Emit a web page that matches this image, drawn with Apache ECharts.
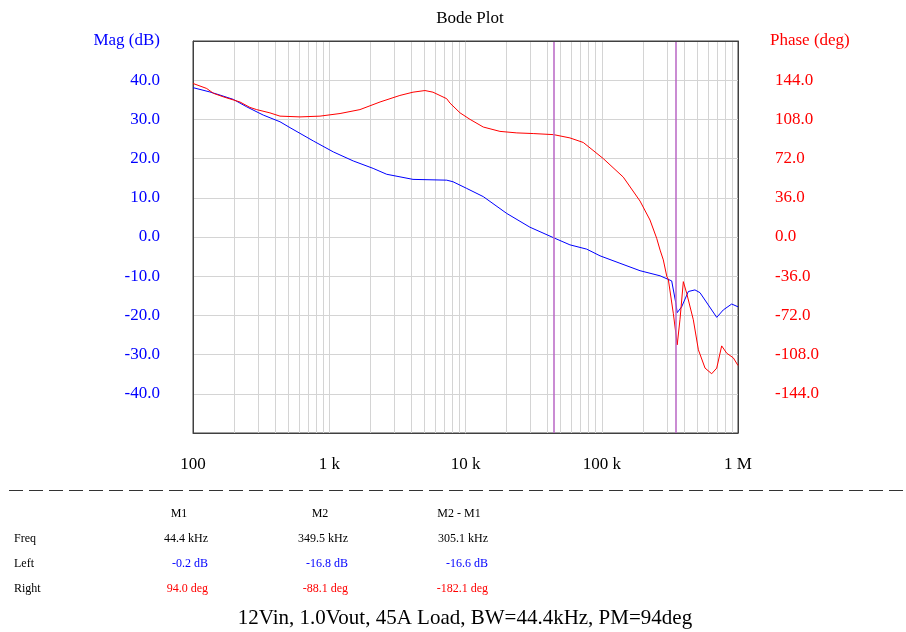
<!DOCTYPE html>
<html>
<head>
<meta charset="utf-8">
<script src="https://cdn.jsdelivr.net/npm/echarts@6/dist/echarts.min.js"></script>
<style>
html,body{margin:0;padding:0;background:#fff;}
#chart{width:906px;height:632px;}
</style>
</head>
<body>
<div id="chart"></div>
<script>
// ---- data ----
const magFreq = [100, 133, 158, 198, 248, 328, 435, 515, 764, 1072, 1500, 2100, 2640, 4120, 7280, 8090, 10200, 13500, 20100, 29700, 44400, 58400, 77600, 97100, 136000, 191000, 268000, 326000, 349500, 358000, 386000, 432000, 483000, 526000, 698000, 780000, 899000, 1000000];
const magDb   = [38.1, 37.0, 36.2, 35.1, 33.2, 31.1, 29.4, 27.9, 24.5, 21.7, 19.4, 17.5, 16.0, 14.7, 14.5, 14.1, 12.4, 10.3, 6.0, 2.5, -0.2, -2.0, -3.1, -4.8, -6.7, -8.6, -9.9, -11.2, -16.8, -19.3, -17.8, -13.9, -13.5, -14.2, -20.5, -18.6, -17.1, -17.8];

const phaseFreq = [100, 126, 141, 167, 221, 262, 293, 367, 435, 610, 855, 1200, 1680, 2360, 3300, 4120, 5040, 5770, 7280, 7690, 9120, 10800, 13500, 17900, 23800, 31400, 44400, 58400, 73200, 102600, 143900, 191000, 226000, 253000, 268000, 283000, 300000, 308000, 335000, 349500, 358000, 375000, 397000, 420000, 470000, 512000, 573000, 641000, 698000, 759000, 826000, 924000, 1000000];
const phaseDeg  = [141, 136.4, 132, 128.7, 124, 119, 117, 114, 111, 110.3, 111, 113.4, 117, 124, 130, 133, 134.5, 133, 127, 123, 114, 108, 101, 97, 95.6, 95, 94, 91, 86.8, 72, 55, 33, 15.6, -1.2, -12, -21, -36, -39, -70, -88.1, -99, -76, -41, -51.6, -76, -103.6, -120.4, -125.6, -120.4, -100, -106.7, -111, -118];

const markerFreqs = [44400, 349500];
const xTickLabels = ['100', '1 k', '10 k', '100 k', '1 M'];

const tableHeaders = ['M1', 'M2', 'M2 - M1'];
const rowNames = ['Freq', 'Left', 'Right'];
const freqRow  = ['44.4 kHz', '349.5 kHz', '305.1 kHz'];
const leftRow  = ['-0.2 dB', '-16.8 dB', '-16.6 dB'];
const rightRow = ['94.0 deg', '-88.1 deg', '-182.1 deg'];
const caption = '12Vin, 1.0Vout, 45A Load, BW=44.4kHz, PM=94deg';

// ---- chart ----
const FONT = '"Liberation Serif", "Times New Roman", serif';
const BLUE = '#0000ff', RED = '#ff0000', GRID = '#d4d4d4', BORDER = '#404040';

const minorGrid = [];
for (let e = 2; e < 6; e++) {
  for (let k = 2; k <= 9; k++) minorGrid.push(k * Math.pow(10, e));
}

const chart = echarts.init(document.getElementById('chart'), null, {renderer: 'canvas'});

const colX = [208, 348, 488];
const headX = [179, 320, 459];
const rowY = [539, 564, 589];
const graphics = [
  {type: 'line', shape: {x1: 9, y1: 490.5, x2: 906, y2: 490.5}, style: {stroke: '#333', lineWidth: 1, lineDash: [14, 6]}},
  {type: 'text', x: 465, y: 618, style: {text: caption, fill: '#000', font: '21px ' + FONT, textAlign: 'center', textVerticalAlign: 'middle'}},
  {type: 'line', z: 100, shape: {x1: 193, y1: 41.5, x2: 738, y2: 41.5}, style: {stroke: BORDER, lineWidth: 1}}
];
tableHeaders.forEach((t, i) => graphics.push({type: 'text', x: headX[i], y: 514, style: {text: t, fill: '#000', font: '12px ' + FONT, textAlign: 'center', textVerticalAlign: 'middle'}}));
rowNames.forEach((t, i) => graphics.push({type: 'text', x: 14, y: rowY[i], style: {text: t, fill: '#000', font: '12px ' + FONT, textAlign: 'left', textVerticalAlign: 'middle'}}));
[[freqRow, '#000'], [leftRow, BLUE], [rightRow, RED]].forEach(([row, col], r) => {
  row.forEach((t, i) => graphics.push({type: 'text', x: colX[i], y: rowY[r], style: {text: t, fill: col, font: '12px ' + FONT, textAlign: 'right', textVerticalAlign: 'middle'}}));
});

chart.setOption({
  animation: false,
  backgroundColor: '#fff',
  title: {
    text: 'Bode Plot', left: 465, top: 5, textAlign: 'center',
    textStyle: {fontFamily: FONT, fontSize: 17, fontWeight: 'normal', color: '#000'}
  },
  grid: {left: 193, right: 168, top: 41, bottom: 199, show: true, borderColor: BORDER, borderWidth: 1, backgroundColor: 'transparent'},
  xAxis: {
    type: 'log', logBase: 10, min: 100, max: 1000000,
    axisLine: {show: true, onZero: false, lineStyle: {color: BORDER, width: 1}}, axisTick: {show: false},
    splitLine: {show: true, showMinLine: false, showMaxLine: false, lineStyle: {color: GRID, width: 1}},
    axisLabel: {
      margin: 23, color: '#000', fontFamily: FONT, fontSize: 17,
      formatter: v => xTickLabels[Math.round(Math.log10(v)) - 2]
    }
  },
  yAxis: [
    {
      type: 'value', min: -50, max: 50, interval: 10, position: 'left',
      name: 'Mag (dB)', nameLocation: 'end', nameGap: 0,
      nameTextStyle: {color: BLUE, fontFamily: FONT, fontSize: 17, align: 'right', verticalAlign: 'middle', padding: [0, 33, 0, 0]},
      axisLine: {show: true, onZero: false, lineStyle: {color: BORDER, width: 1}}, axisTick: {show: false},
      splitLine: {show: true, showMinLine: false, showMaxLine: false, lineStyle: {color: GRID, width: 1}},
      axisLabel: {margin: 33, color: BLUE, fontFamily: FONT, fontSize: 17, showMinLabel: false, showMaxLabel: false, formatter: v => v.toFixed(1)}
    },
    {
      type: 'value', min: -180, max: 180, interval: 36, position: 'right',
      name: 'Phase (deg)', nameLocation: 'end', nameGap: 0,
      nameTextStyle: {color: RED, fontFamily: FONT, fontSize: 17, align: 'left', verticalAlign: 'middle', padding: [0, 0, 0, 32]},
      axisLine: {show: true, onZero: false, lineStyle: {color: BORDER, width: 1}}, axisTick: {show: false},
      splitLine: {show: false},
      axisLabel: {margin: 37, color: RED, fontFamily: FONT, fontSize: 17, showMinLabel: false, showMaxLabel: false, formatter: v => v.toFixed(1)}
    }
  ],
  series: [
    {
      name: 'grid', type: 'line', data: [], z: 1, silent: true,
      markLine: {
        silent: true, symbol: ['none', 'none'], animation: false, z: 1,
        label: {show: false},
        lineStyle: {color: GRID, width: 1, type: 'solid'},
        data: minorGrid.map(f => ({xAxis: f}))
      }
    },
    {
      name: 'Mag', type: 'line', yAxisIndex: 0, z: 3,
      data: magFreq.map((f, i) => [f, magDb[i]]),
      showSymbol: false, symbol: 'none',
      lineStyle: {color: BLUE, width: 1}, itemStyle: {color: BLUE}
    },
    {
      name: 'Phase', type: 'line', yAxisIndex: 1, z: 4,
      data: phaseFreq.map((f, i) => [f, phaseDeg[i]]),
      showSymbol: false, symbol: 'none',
      lineStyle: {color: RED, width: 1}, itemStyle: {color: RED},
      markLine: {
        silent: true, symbol: ['none', 'none'], animation: false,
        label: {show: false},
        lineStyle: {color: '#b866c4', width: 1.5, type: 'solid'},
        data: markerFreqs.map(f => ({xAxis: f}))
      }
    }
  ],
  graphic: graphics
});
</script>
</body>
</html>
